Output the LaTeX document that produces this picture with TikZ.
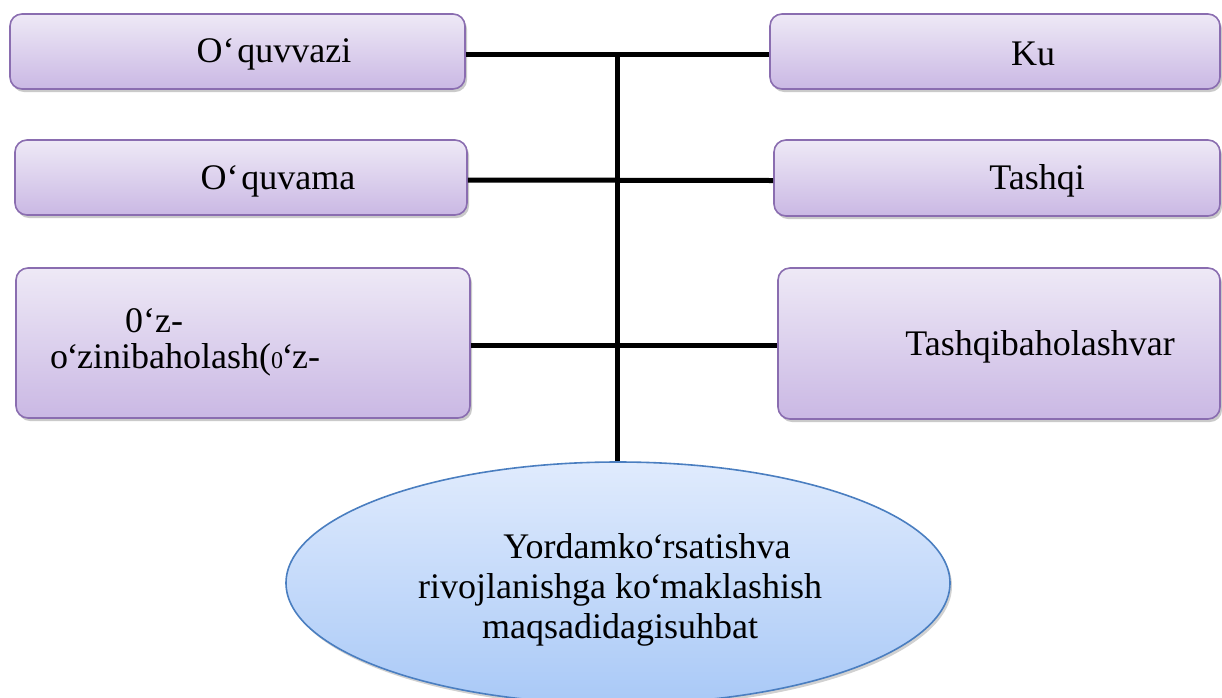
\documentclass[tikz,border=0pt]{standalone}
\usepackage{fontspec}
\setmainfont{Liberation Serif}
\usetikzlibrary{shapes.geometric,shadows}
\definecolor{boxtop}{HTML}{EEE9F6}
\definecolor{boxbot}{HTML}{CAB8E4}
\definecolor{boxline}{HTML}{8A6DB0}
\definecolor{elltop}{HTML}{E0EBFD}
\definecolor{ellbot}{HTML}{A9C9F7}
\definecolor{ellline}{HTML}{4A7EC0}
\tikzset{
  pbox/.style={draw=boxline, line width=1.6pt, rounded corners=12pt,
    top color=boxtop, bottom color=boxbot, inner sep=0pt,
    drop shadow={shadow xshift=2pt, shadow yshift=-3pt, opacity=.35, fill=black!60}},
  btext/.style={inner sep=0pt, font=\fontsize{36}{36}\selectfont, text=black},
  conn/.style={line width=5pt, draw=black},
}
\newcommand{\nq}{\kern-1.5pt‘\kern-1.5pt}
\begin{document}
\begin{tikzpicture}[x=1pt,y=-1pt]
\useasboundingbox (0,0) rectangle (1222,697);
% left boxes
\node[pbox, minimum width=455pt, minimum height=75pt] (L1) at (237.5,51.5) {};
\node[pbox, minimum width=452pt, minimum height=75pt] (L2) at (241,177.5) {};
\node[pbox, minimum width=454pt, minimum height=150pt] (L3) at (243,343) {};
% right boxes
\node[pbox, minimum width=450pt, minimum height=75pt] (R1) at (995,51.5) {};
\node[pbox, minimum width=446pt, minimum height=76pt] (R2) at (997,178) {};
\node[pbox, minimum width=442pt, minimum height=151pt] (R3) at (999,343.5) {};
% ellipse
\node[ellipse, draw=ellline, line width=1.6pt, top color=elltop, bottom color=ellbot,
  minimum width=664pt, minimum height=242pt, inner sep=0pt,
  drop shadow={shadow xshift=2pt, shadow yshift=-3pt, opacity=.3, fill=black!60}] (E) at (618,583) {};
% connectors
\coordinate (J) at (617,54);
\draw[conn] (L1.east |- J) -- (R1.west |- J);
\draw[conn] ([yshift=-2.5pt]L2.east) -- ([yshift=-2.5pt]R2.west);
\draw[conn] ([yshift=-2pt]L3.east) -- ([yshift=-1.5pt]R3.west);
\draw[conn] (J) -- (J |- E.north);
% texts
\node[btext] (t1) at (274,54) {O‘\kern3pt quvvazi};
\node[btext] (t2) at (278,181) {O‘\kern3pt quvama};
\node[btext] (t4) at (1033,54) {Ku};
\node[btext] (t5) at (1037,181) {Tashqi};
\node[btext] (t6) at (1040,347) {Tashqibaholashvar};
\node[btext, anchor=west, align=left, font=\fontsize{36}{36}\selectfont] (t3) at (50,342)
  {\hspace*{75pt}0‘z-\\o\nq zinibaholash({\fontsize{24}{36}\selectfont 0}\nq z-};
\node[btext, align=center, font=\fontsize{36}{40}\selectfont] (t7) at (620,590)
  {\hspace*{54pt}Yordamko\nq rsatishva\\rivojlanishga ko\nq maklashish\\maqsadidagisuhbat};
\end{tikzpicture}
\end{document}
